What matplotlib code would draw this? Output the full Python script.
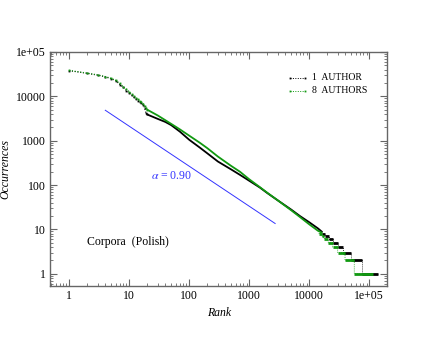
import matplotlib
matplotlib.use("Agg")

import matplotlib.pyplot as plt
import numpy as np

# ── data ──────────────────────────────────────────────────────────────────────
# head: individual ranks, drawn as dotted line with small dots
head_rank   = [1, 2, 3, 4, 5, 6, 7, 8, 9, 10, 11, 12, 13, 14, 15, 16, 17, 18, 19, 20]
head_black  = [38000, 33000, 30000, 27500, 25000, 22500, 18500, 16000, 13500, 12000,
               10500, 9500, 8700, 8000, 7500, 7000, 6500, 5600, 4300, 3900]
head_green  = [38500, 33500, 30500, 28000, 25500, 23000, 19500, 16500, 14500, 12800,
               11200, 10200, 9300, 8600, 8000, 7400, 6900, 6200, 5600, 5000]

# body: dense part of the rank-frequency curve
body_rank   = [20, 30, 40, 50, 70, 100, 150, 200, 300, 500, 700, 1000, 1500, 2000,
               3000, 5000, 7000, 10000, 14000, 16000]
body_black  = [3900, 3100, 2650, 2250, 1600, 1050, 700, 520, 340, 225, 170, 125, 88, 66,
               45, 28, 20, 14.5, 10.5, 9]
body_green  = [5000, 3700, 2900, 2400, 1800, 1300, 900, 680, 440, 270, 200, 135, 90, 67,
               45, 27, 19, 13, 9.3, 8.5]

# tail: plateaus of equal frequency
step_count       = [8, 7, 6, 5, 4, 3, 2, 1]
step_black_start = [16000, 18500, 21300, 25000, 30000, 36900, 49000, 74700]
step_black_end   = [18500, 21300, 25000, 30000, 36900, 49000, 74700, 141000]
step_green_start = [14500, 16100, 17800, 20700, 24500, 29700, 39400, 56200]
step_green_end   = [16100, 17800, 20700, 24500, 29700, 39400, 56200, 116600]

# fitted power law, alpha = 0.90
fit_rank  = [4, 2700]
fit_count = [4860, 13.6]
ALPHA = 0.90

BLACK = "#000000"
GREEN = "#119911"
BLUE  = "#3333ff"
FRAME = "#666666"

plt.rcParams["font.family"] = ["Liberation Serif", "DejaVu Serif"]
plt.rcParams["mathtext.fontset"] = "stix"

fig = plt.figure(figsize=(4.36, 3.37), dpi=100)
ax = fig.add_axes([0.1147, 0.1513, 0.7729, 0.6944])


def draw_series(hr, hc, br, bc, s_start, s_end, color, z):
    # head: dotted with dots
    ax.plot(hr, hc, ls=(0, (1, 1.5)), lw=0.8, color=color, marker="s",
            markersize=1.3, markeredgewidth=0, zorder=z)
    # body: dense points look like a solid line
    ax.plot(br, bc, ls="-", lw=1.3, color=color, zorder=z)
    # tail: dotted connectors + thick plateaus
    xs, ys = [br[-1]], [bc[-1]]
    for c, a, b in zip(step_count, s_start, s_end):
        xs += [a, b]
        ys += [c, c]
    ax.plot(xs, ys, ls=(0, (1, 1.5)), lw=0.6, color=color, zorder=z)
    ax.hlines(step_count, s_start, s_end, color=color, lw=2.0, zorder=z)


draw_series(head_rank, head_black, body_rank, body_black,
            step_black_start, step_black_end, BLACK, 3)
draw_series(head_rank, head_green, body_rank, body_green,
            step_green_start, step_green_end, GREEN, 4)

ax.plot(fit_rank, fit_count, color=BLUE, lw=0.7, zorder=2)
ax.text(51, 160, rf"$\alpha$ = {ALPHA:.2f}", color=BLUE, fontsize=8.5,
        ha="center", va="center")
ax.text(2.0, 5.2, "Corpora  (Polish)", fontsize=8.5, ha="left", va="center")

# legend drawn by hand
for yy, col, lbl in [(0.889, BLACK, "1  AUTHOR"), (0.835, GREEN, "8  AUTHORS")]:
    ax.plot([0.712, 0.757], [yy, yy], transform=ax.transAxes, ls=(0, (1, 1.5)),
            lw=0.7, color=col, marker="s", markersize=1.3, markevery=[0, 1],
            markeredgewidth=0)
    ax.text(0.776, yy, lbl, transform=ax.transAxes, fontsize=7, va="center")

ax.set_xscale("log")
ax.set_yscale("log")
ax.set_xlim(0.48, 1.97e5)
ax.set_ylim(0.53, 1e5)

ticks = [1, 10, 100, 1000, 10000, 100000]
labels = ["1", "10", "100", "1000", "10000", "1e+05"]
ax.set_xticks(ticks)
ax.set_xticklabels(labels)
ax.set_yticks(ticks)
ax.set_yticklabels(labels)
ax.tick_params(which="both", direction="in", top=True, right=True,
               color=FRAME, labelsize=8.5, pad=3)
ax.tick_params(which="major", length=5, width=0.8)
ax.tick_params(which="minor", length=2.5, width=0.6)
for sp in ax.spines.values():
    sp.set_color(FRAME)
    sp.set_linewidth(1.0)

ax.set_xlabel("Rank", fontsize=8.5, style="italic")
ax.set_ylabel("Occurrences", fontsize=8.5, style="italic")
ax.xaxis.set_label_coords(0.502, -0.088)
ax.yaxis.set_label_coords(-0.114, 0.5)

fig.savefig("out.png", dpi=100)
